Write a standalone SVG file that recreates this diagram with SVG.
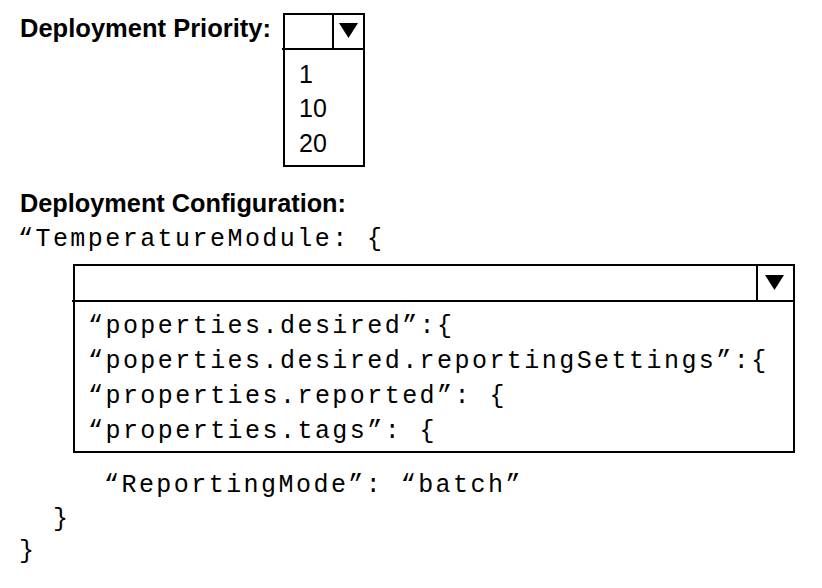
<svg xmlns="http://www.w3.org/2000/svg" width="822" height="588" viewBox="0 0 822 588">
<style>
.lbl{font-family:"Liberation Sans",Arial,sans-serif;font-weight:bold;font-size:25px;fill:#000}
.opt{font-family:"Liberation Sans",Arial,sans-serif;font-size:25px;fill:#000}
.code{font-family:"Liberation Mono","Courier New",monospace;font-size:25px;letter-spacing:2.45px;fill:#000}
.box{fill:#fff;stroke:#000;stroke-width:2}
.ln{stroke:#000;stroke-width:2;fill:none}
.tri{fill:#000}
</style>
<rect width="822" height="588" fill="#fff"/>
<g id="priority-label"><text class="lbl" x="20" y="37" textLength="251" lengthAdjust="spacingAndGlyphs">Deployment Priority:</text></g>
<g id="priority-dropdown">
<rect class="box" x="284" y="14" width="80" height="152"/>
<line class="ln" x1="282" y1="49" x2="364" y2="49"/>
<line class="ln" x1="333" y1="14" x2="333" y2="49"/>
<polygon class="tri" points="339,23 358,23 348.5,38"/>
<text class="opt" x="299" y="83">1</text>
<text class="opt" x="299" y="117">10</text>
<text class="opt" x="299" y="152">20</text>
</g>
<g id="config-label"><text class="lbl" x="20" y="212" textLength="326" lengthAdjust="spacingAndGlyphs">Deployment Configuration:</text></g>
<g id="code-top"><text class="code" x="18" y="246">“TemperatureModule: {</text></g>
<g id="config-dropdown">
<rect class="box" x="74" y="265" width="720" height="187"/>
<line class="ln" x1="72" y1="301" x2="794" y2="301"/>
<line class="ln" x1="757" y1="265" x2="757" y2="301"/>
<polygon class="tri" points="765,275 784,275 774.5,290"/>
<text class="code" x="88" y="333">“poperties.desired”:{</text>
<text class="code" x="88" y="368">“poperties.desired.reportingSettings”:{</text>
<text class="code" x="88" y="403">“properties.reported”: {</text>
<text class="code" x="88" y="438">“properties.tags”: {</text>
</g>
<g id="code-bottom">
<text class="code" x="104" y="492">“ReportingMode”: “batch”</text>
<text class="code" x="53" y="526">}</text>
<text class="code" x="19" y="558">}</text>
</g>
<g id="connectors"/>
</svg>
